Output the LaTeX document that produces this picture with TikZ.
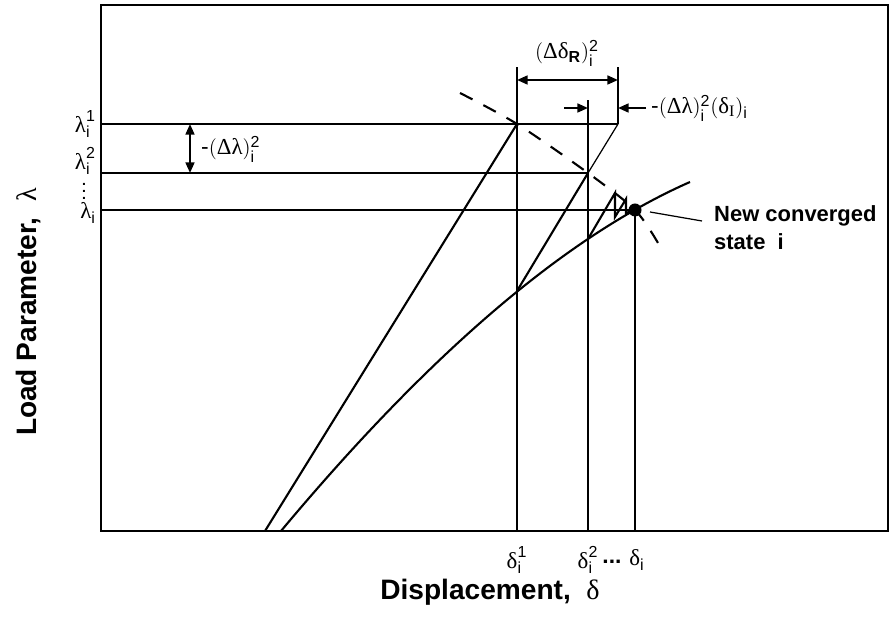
\documentclass[tikz,border=0pt]{standalone}
\usepackage{amsmath}
\usepackage{fontspec}
\setmainfont{Liberation Sans}
\newfontfamily\grk{Liberation Serif}
\newcommand\glam{\text{\grk λ}}
\newcommand\gdel{\text{\grk δ}}
\newcommand\gDel{\text{\grk Δ}}
\usetikzlibrary{arrows.meta}
\tikzset{
  thk/.style={line width=1.2pt},
  thn/.style={line width=0.7pt},
  tip/.style={-{Triangle[length=6pt,width=5pt]}},
  duo/.style={{Triangle[length=6pt,width=5pt]}-{Triangle[length=6pt,width=5pt]}},
  lab/.style={font=\fontsize{13}{15}\selectfont, inner sep=0.5pt},
  ttl/.style={font=\fontsize{16}{18}\selectfont\bfseries, inner sep=0pt},
}
\begin{document}
\begin{tikzpicture}[x=0.02cm,y=-0.02cm]
  \useasboundingbox (0,0) rectangle (889,617);
  % frame
  \draw[thk] (101,5) rectangle (888,531);
  % key points
  \coordinate (P1) at (517,124);
  \coordinate (P2) at (588,173);
  \coordinate (C1) at (517,291);
  \coordinate (C2) at (588,239);
  \coordinate (S) at (635,210);
  \coordinate (T) at (618,124);
  % load levels
  \draw[thk] (101,124) -- (T);
  \draw[thn] (101,173) -- (P2);
  \draw[thn] (101,210) -- (S);
  % displacement levels
  \draw[thn] (517,531) -- (517,67);
  \draw[thn] (588,531) -- (588,100);
  \draw[thn] (635,531) -- (S);
  \draw[thn] (T) -- (618,67);
  % equilibrium path
  \draw[thk] (281,531) .. controls (429,354) and (565,237) .. (690,182);
  % constraint arc
  \draw[thk, dash pattern=on 8pt off 7pt] plot[smooth] coordinates {(460,93) (P1) (P2) (S) (658,243)};
  % predictor / corrector
  \draw[thk] (265,531) -- (P1);
  \draw[thk] (C1) -- (P2);
  \draw[thn] (T) -- (P2);
  \draw[thk] (C2) -- (615,193) -- (615,217) -- (626,199) -- (626,213) -- (S);
  \fill (S) circle (6.5);
  % increments
  \draw[thk, duo] (517,80) -- (618,80);
  \node[lab] (dR) at (567,53) {$(\gDel\gdel_{\mathbf{R}})_{\mathrm{i}}^{\mathrm{2}}$};
  \draw[thk, tip] (564,108) -- (588,108);
  \draw[thk, tip] (646,108) -- (618,108);
  \node[lab, anchor=west] (dI) at (650,108) {-$(\gDel\glam)_{\mathrm{i}}^{\mathrm{2}}(\gdel_{\text{\grk I}})_{\mathrm{i}}$};
  \draw[thk, duo] (190,124) -- (190,173);
  \node[lab, anchor=west] (dL) at (200,149) {-$(\gDel\glam)_{\mathrm{i}}^{\mathrm{2}}$};
  % converged state
  \draw[thn] (650,212) -- (702,221);
  \node[font=\fontsize{12.5}{16}\selectfont\bfseries, anchor=west, align=left] (new) at (708,228) {New converged\\state\ \ i};
  % axis values
  \node[lab, anchor=east] (l1) at (97,124) {$\glam_{\mathrm{i}}^{\mathrm{1}}$};
  \node[lab, anchor=east] (l2) at (97,161) {$\glam_{\mathrm{i}}^{\mathrm{2}}$};
  \node[font=\bfseries\fontsize{8}{8}\selectfont, inner sep=0pt] (l3) at (84,186) {$\vdots$};
  \node[lab, anchor=east] (l4) at (97,213) {$\glam_{\mathrm{i}}$};
  \node[lab] (d1) at (517,560) {$\gdel_{\mathrm{i}}^{\mathrm{1}}$};
  \node[lab] (d2) at (588,560) {$\gdel_{\mathrm{i}}^{\mathrm{2}}$};
  \node[lab] (dd) at (612,562) {\textbf{...}};
  \node[lab] (d3) at (637,560) {$\gdel_{\mathrm{i}}$};
  % axis titles
  \node[ttl] (xl) at (490,592) {Displacement,\ \ \mdseries$\gdel$};
  \node[ttl, rotate=90] (yl) at (28,312) {Load Parameter,\ \ \mdseries$\glam$};
\end{tikzpicture}
\end{document}
